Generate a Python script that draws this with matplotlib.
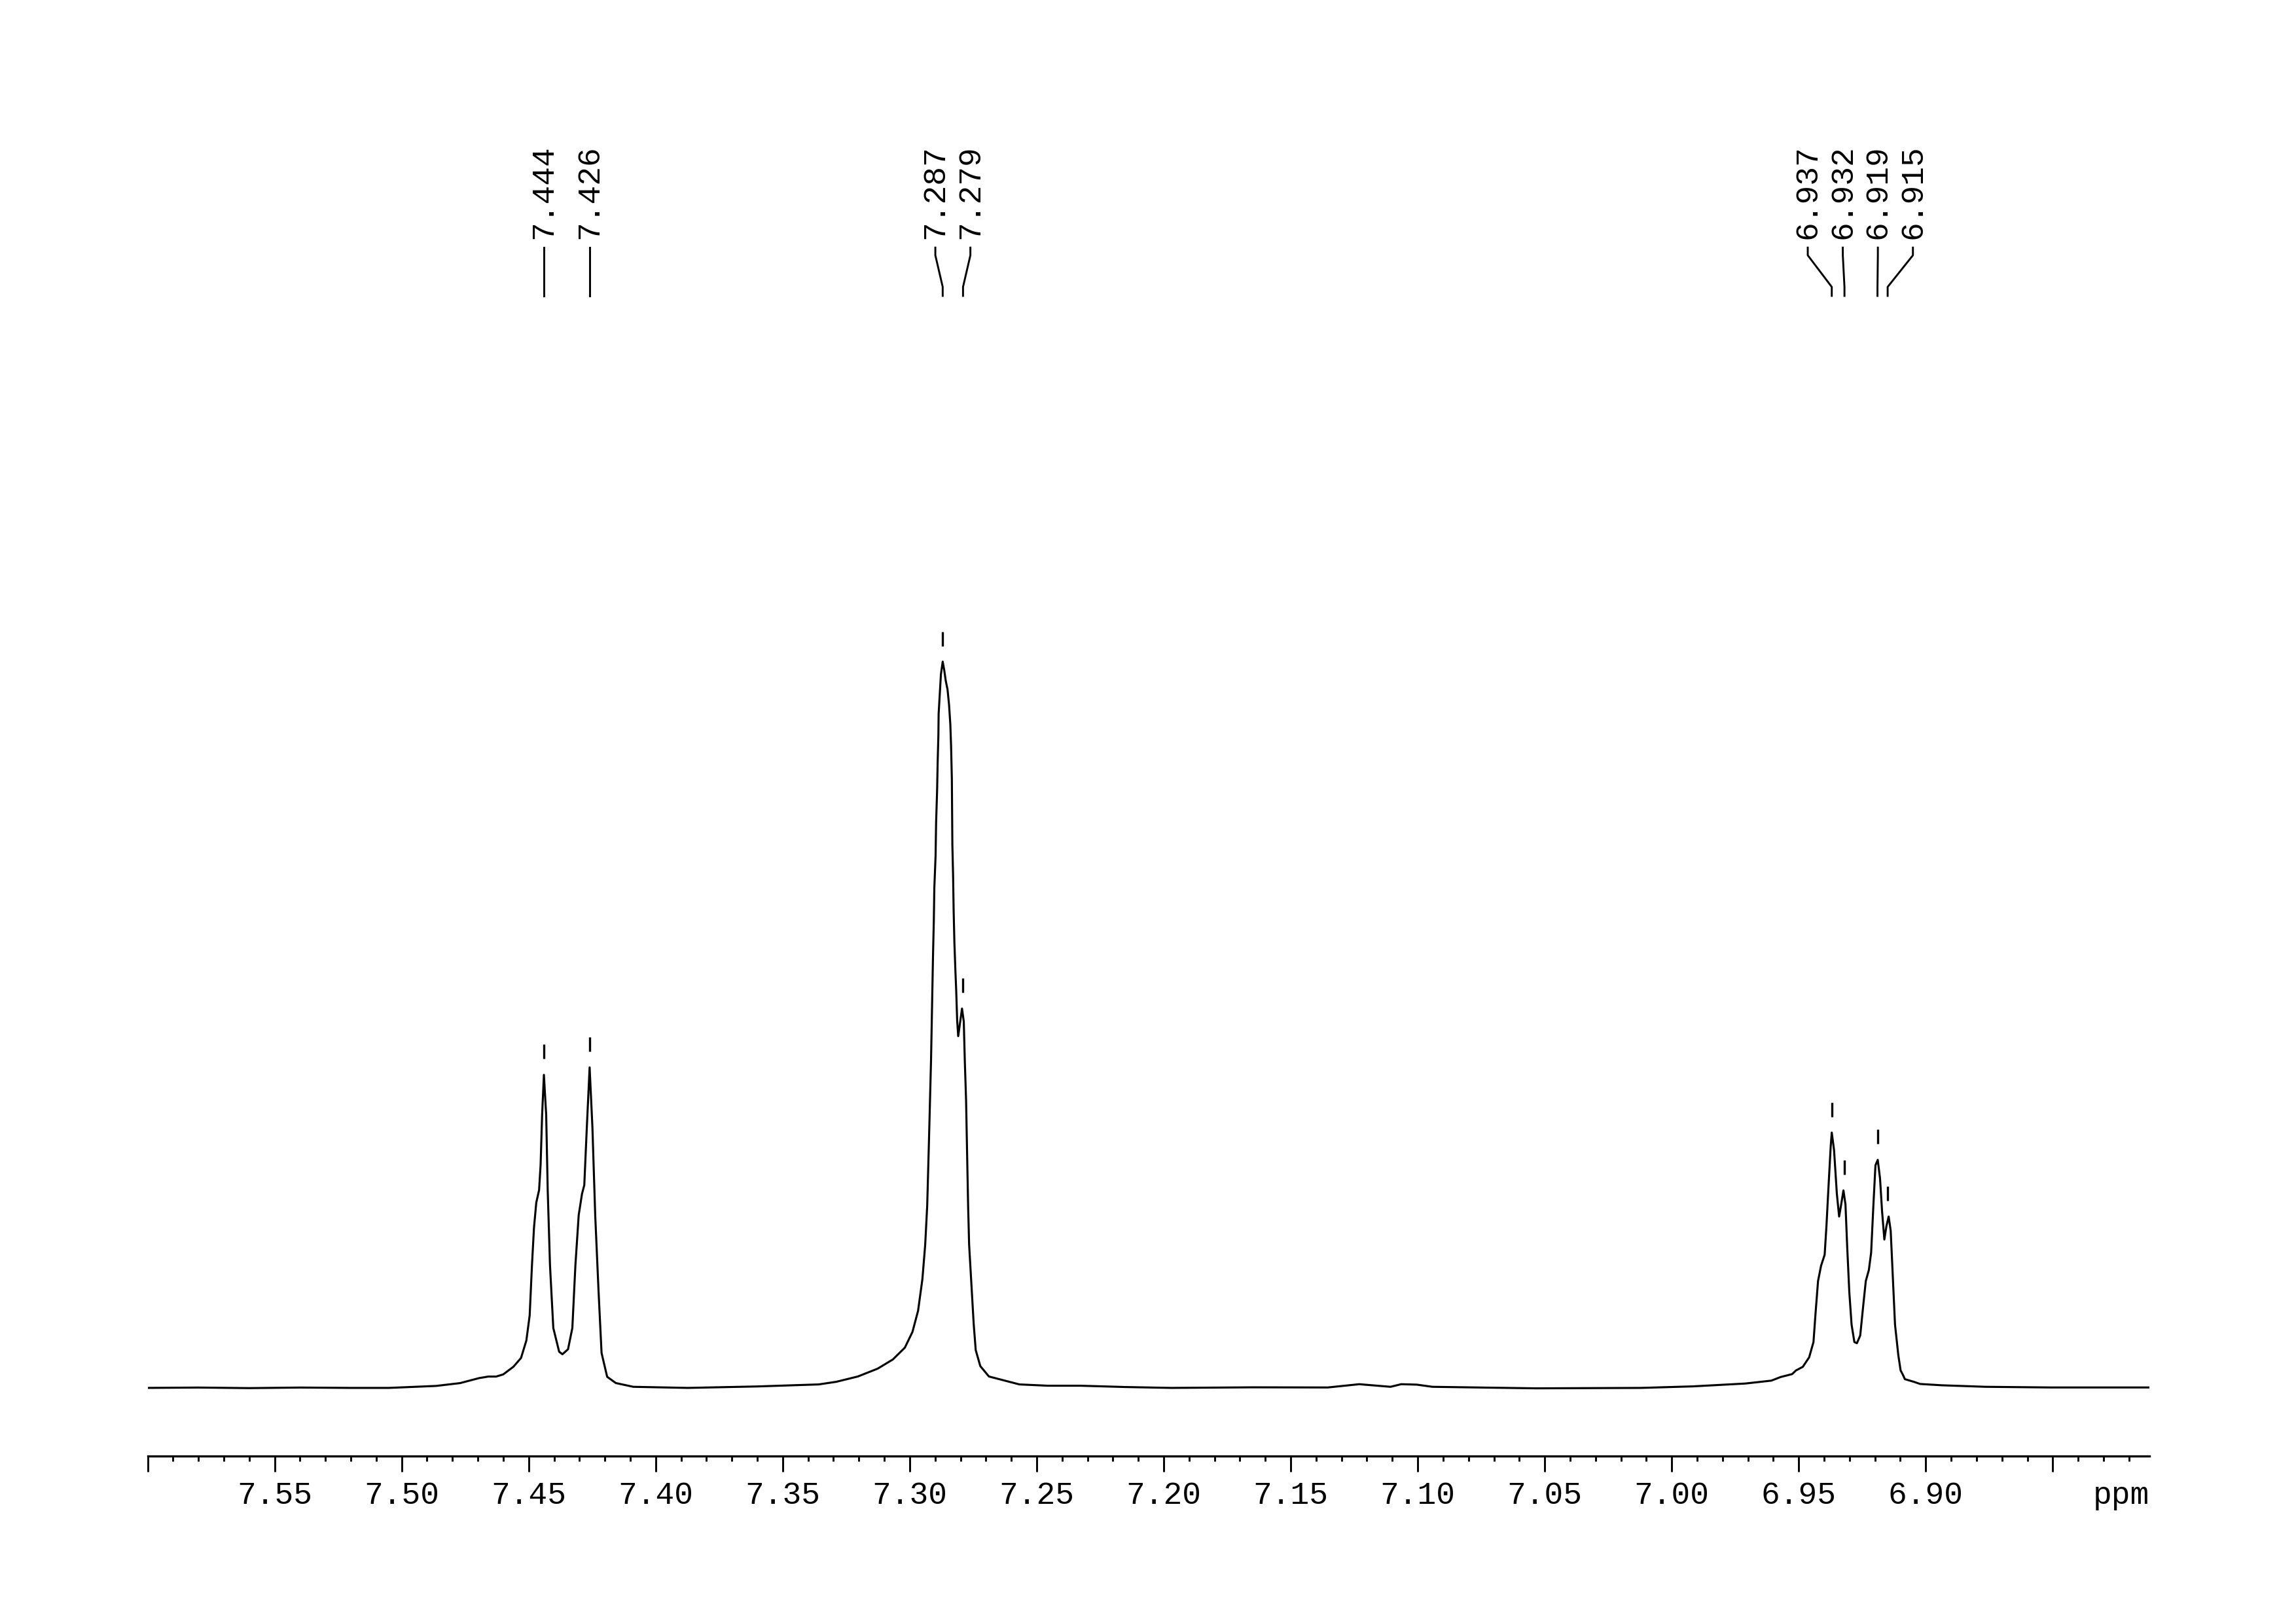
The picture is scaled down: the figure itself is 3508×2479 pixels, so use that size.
import numpy as np
import matplotlib.pyplot as plt
from matplotlib.transforms import offset_copy

# spectrum (chemical shift in ppm, intensity with tallest peak = 100)
shift_ppm = [7.600, 7.580, 7.560, 7.540, 7.520, 7.505, 7.4865, 7.477, 7.4695, 7.4659,
             7.4628, 7.460, 7.456, 7.453, 7.4509, 7.4496, 7.4487, 7.4479, 7.447, 7.4459,
             7.4453, 7.4447, 7.444, 7.4431, 7.4425, 7.4416, 7.4403, 7.438, 7.4367, 7.4345,
             7.4328, 7.4316, 7.4303, 7.429, 7.4281, 7.4271, 7.426, 7.4249, 7.4238, 7.4225,
             7.4213, 7.4191, 7.4157, 7.4088, 7.3873, 7.360, 7.3358, 7.3289, 7.3204, 7.3126,
             7.3066, 7.3019, 7.2989, 7.2967, 7.295, 7.2939, 7.2931, 7.2924, 7.2916, 7.2908,
             7.2905, 7.2903, 7.2898, 7.2896, 7.2892, 7.289, 7.2887, 7.2886, 7.2881, 7.2877,
             7.287, 7.2864, 7.2858, 7.2851, 7.2845, 7.284, 7.2837, 7.2834, 7.2833, 7.2832,
             7.2829, 7.2827, 7.2824, 7.282, 7.2817, 7.2813, 7.2809, 7.2794, 7.2787, 7.2783,
             7.2778, 7.2774, 7.277, 7.2766, 7.2757, 7.2748, 7.274, 7.2722, 7.2688, 7.2628,
             7.2568, 7.2456, 7.2328, 7.215, 7.197, 7.165, 7.1354, 7.123, 7.1107, 7.1065,
             7.1004, 7.0942, 7.0533, 7.0121, 6.9917, 6.9711, 6.9608, 6.9571, 6.9526, 6.9511,
             6.9484, 6.9459, 6.9442, 6.9434, 6.9424, 6.9412, 6.9398, 6.9391, 6.9382, 6.9374,
             6.937, 6.9361, 6.935, 6.9341, 6.9333, 6.9324, 6.9316, 6.9309, 6.9301, 6.9292,
             6.9281, 6.9271, 6.9258, 6.9245, 6.9236, 6.9224, 6.9215, 6.9206, 6.9198, 6.9189,
             6.918, 6.9172, 6.9163, 6.9155, 6.9146, 6.9138, 6.9129, 6.9121, 6.9108, 6.9099,
             6.909, 6.9082, 6.9047, 6.9022, 6.8936, 6.8764, 6.8507, 6.812]
intensity = [0.0, 0.05, -0.03, 0.05, 0.0, 0.0, 0.27, 0.66, 1.35, 1.56,
             1.56, 1.86, 2.91, 4.12, 6.53, 9.98, 16.87, 22.05, 25.5, 27.21,
             30.67, 37.57, 43.08, 37.57, 27.21, 16.87, 8.25, 4.98, 4.63, 5.32,
             8.25, 16.87, 23.78, 26.7, 27.91, 35.86, 44.11, 35.86, 23.78, 13.42,
             4.81, 1.53, 0.67, 0.15, 0.0, 0.2, 0.48, 0.84, 1.57, 2.65,
             3.92, 5.54, 7.71, 10.61, 14.95, 19.66, 25.09, 34.14, 45.0, 59.76,
             64.26, 68.77, 73.27, 77.77, 82.28, 85.88, 89.82, 92.79, 95.79, 98.2,
             99.94, 98.77, 97.3, 96.1, 94.0, 91.3, 88.3, 83.8, 79.3, 74.8,
             70.3, 65.8, 61.3, 57.4, 54.8, 50.5, 48.4, 52.2, 50.4, 45.0,
             39.6, 32.3, 25.1, 19.7, 14.2, 8.8, 5.2, 3.0, 1.57, 1.02,
             0.48, 0.3, 0.3, 0.12, 0.0, 0.08, 0.06, 0.51, 0.15, 0.51,
             0.45, 0.15, -0.06, 0.0, 0.21, 0.6, 1.0, 1.5, 1.9, 2.4,
             2.9, 4.21, 6.31, 10.21, 14.71, 16.82, 18.32, 22.23, 28.23, 33.33,
             35.14, 32.73, 26.73, 23.58, 25.23, 27.18, 25.23, 19.22, 13.22, 8.71,
             6.31, 6.15, 7.21, 11.71, 14.71, 16.22, 18.62, 25.23, 30.63, 31.38,
             28.83, 24.32, 20.42, 22.23, 23.58, 21.62, 14.71, 8.71, 4.5, 2.41,
             1.8, 1.2, 0.84, 0.54, 0.36, 0.15, 0.06, 0.06]

# picked peaks
peak_ppm = [7.444, 7.426, 7.287, 7.279, 6.937, 6.932, 6.919, 6.915]
peak_height = [43.1, 44.1, 99.9, 52.2, 35.1, 27.2, 31.4, 23.6]

tick_ppm = [7.60, 7.55, 7.50, 7.45, 7.40, 7.35, 7.30, 7.25, 7.20, 7.15,
            7.10, 7.05, 7.00, 6.95, 6.90, 6.85]
tick_labels = ['', '7.55', '7.50', '7.45', '7.40', '7.35', '7.30', '7.25', '7.20',
               '7.15', '7.10', '7.05', '7.00', '6.95', '6.90', '']

plt.rcParams['font.family'] = ['Liberation Mono', 'DejaVu Sans Mono']
fsize = 11.5

fig = plt.figure(figsize=(3508 / 300, 2479 / 300), dpi=300)
ax = fig.add_axes([0.0643, 0.1029, 0.8718, 0.7148])
ax.plot(shift_ppm, intensity, color='black', lw=0.75)
ax.set_xlim(7.600, 6.812)
ax.set_ylim(-9.37, 150.27)

for s in ['left', 'right', 'top']:
    ax.spines[s].set_visible(False)
ax.spines['bottom'].set_linewidth(0.8)
ax.set_yticks([])
ax.set_xticks(tick_ppm, tick_labels)
ax.xaxis.set_minor_locator(plt.MultipleLocator(0.01))
ax.tick_params(axis='x', which='major', length=5.8, width=0.7, pad=3.3, labelsize=fsize)
ax.tick_params(axis='x', which='minor', length=2.0, width=0.7)
ax.annotate('ppm', xy=(1, 0), xycoords='axes fraction', xytext=(0, -(5.8 + 3.3)),
            textcoords='offset points', ha='right', va='top', fontsize=fsize)

# little marks above the picked peaks
mark = offset_copy(ax.transData, fig=fig, y=8.5, units='points')
ax.plot(peak_ppm, peak_height, ls='none', marker='|', ms=5.5, mew=0.8,
        color='black', transform=mark, clip_on=False)

# spread the labels so they do not overlap
gap = 0.0138
groups = [[0]]
for i in range(1, len(peak_ppm)):
    if peak_ppm[groups[-1][-1]] - peak_ppm[i] < gap:
        groups[-1].append(i)
    else:
        groups.append([i])
label_x = []
for g in groups:
    c = np.mean([peak_ppm[i] for i in g])
    for j, i in enumerate(g):
        label_x.append(c + ((len(g) - 1) / 2 - j) * gap)

trans = ax.get_xaxis_transform()
y_lev = [1.0, 1.0077, 1.035, 1.0416]
for p, lx in zip(peak_ppm, label_x):
    ax.plot([p, p, lx, lx], y_lev, transform=trans, color='black', lw=0.7, clip_on=False)
    ax.text(lx, 1.0488, f'{p:.3f}', transform=trans, rotation=90,
            ha='center', va='bottom', fontsize=fsize)

fig.savefig('out.png', dpi=300)
